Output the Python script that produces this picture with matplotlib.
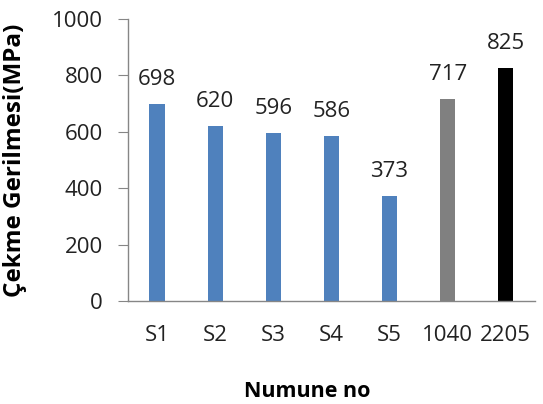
import matplotlib
matplotlib.use("Agg")
import matplotlib.pyplot as plt

categories = ["S1", "S2", "S3", "S4", "S5", "1040", "2205"]
values = [698, 620, 596, 586, 373, 717, 825]
colors = ["#4F81BD"] * 5 + ["#808080", "#000000"]

plt.rcParams["font.family"] = ["Open Sans", "DejaVu Sans"]

fig = plt.figure(figsize=(5.43, 4.04), dpi=100)
ax = fig.add_axes([0.2357, 0.255, 0.7493, 0.698])

x = list(range(len(categories)))
ax.bar(x, values, width=0.26, color=colors, zorder=2)

for xi, v in zip(x, values):
    ax.annotate(str(v), (xi, v), xytext=(0, 10), textcoords="offset points",
                ha="center", va="bottom", fontsize=16, color="#222222")

ax.set_xlim(-0.5, len(categories) - 0.5)
ax.set_ylim(0, 1000)
ax.set_yticks(range(0, 1001, 200))
ax.set_xticks(x)
ax.set_xticklabels(categories)

for s in ["top", "right"]:
    ax.spines[s].set_visible(False)
for s in ["left", "bottom"]:
    ax.spines[s].set_color("#868686")
    ax.spines[s].set_linewidth(1.0)

ax.tick_params(axis="y", length=7, color="#868686", labelsize=16, pad=11, labelcolor="#222222")
ax.tick_params(axis="x", length=0, labelsize=16, pad=17, labelcolor="#222222")

ax.set_ylabel("Çekme Gerilmesi(MPa)", fontsize=17.5, fontweight="bold")
ax.yaxis.set_label_coords(-0.248, 0.5)
ax.set_xlabel("Numune no", fontsize=15.5, fontweight="bold")
ax.xaxis.set_label_coords(0.44, -0.285)

fig.savefig("out.png", dpi=100)
